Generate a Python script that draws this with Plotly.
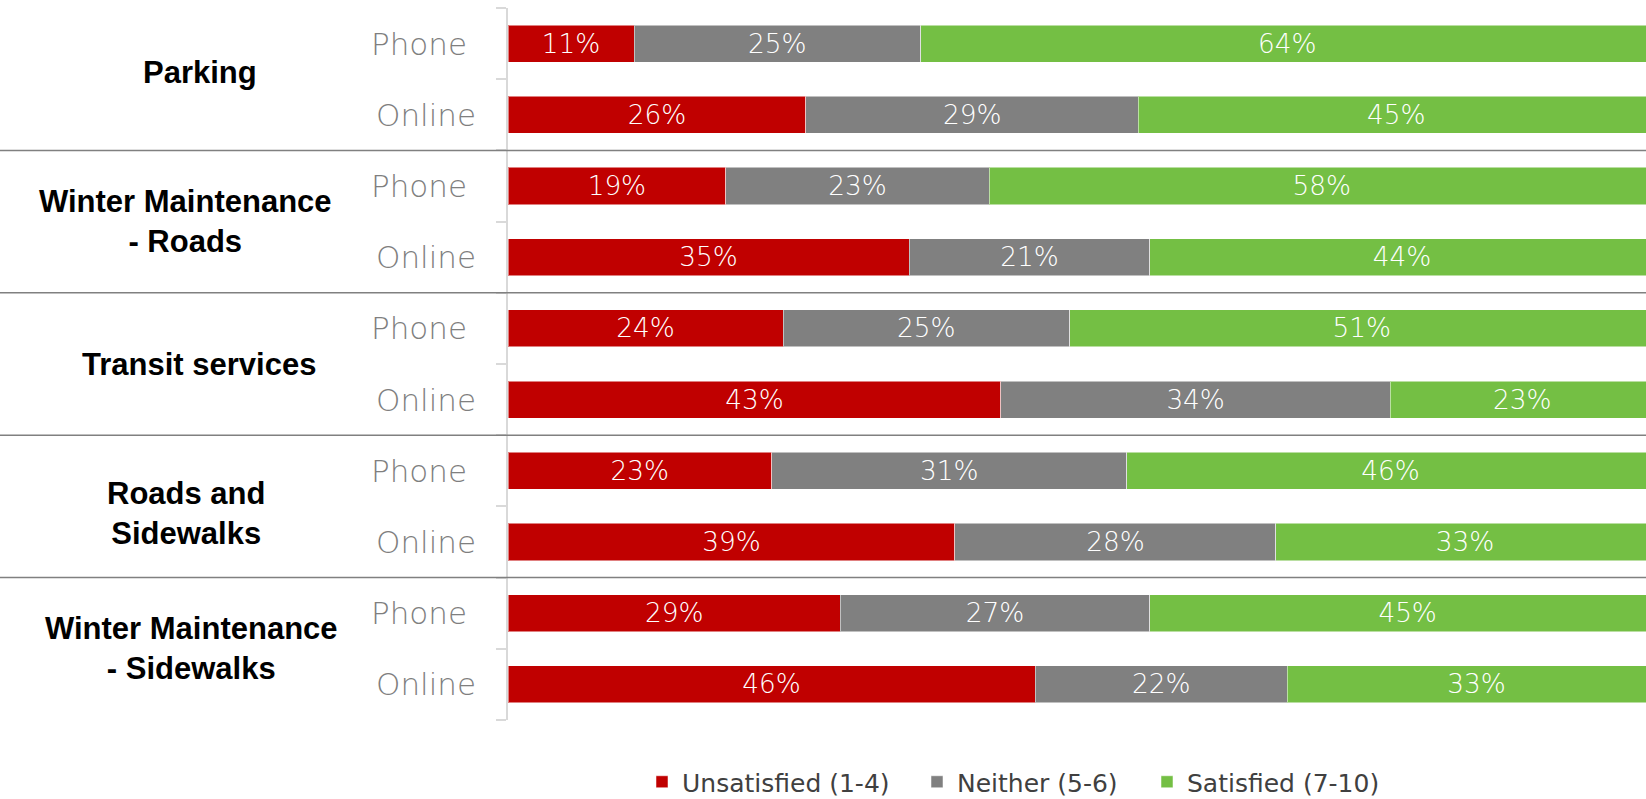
import plotly.graph_objects as go

categories = ["Parking", "Winter Maintenance<br>- Roads", "Transit services",
              "Roads and<br>Sidewalks", "Winter Maintenance<br>- Sidewalks"]
modes = ["Phone", "Online"]
series_names = ["Unsatisfied (1-4)", "Neither (5-6)", "Satisfied (7-10)"]
unsatisfied = [11, 26, 19, 35, 24, 43, 23, 39, 29, 46]
neither = [25, 29, 23, 21, 25, 34, 31, 28, 27, 22]
satisfied = [64, 45, 58, 44, 51, 23, 46, 33, 45, 33]
colors = ["#C00000", "#808080", "#74BF44"]

rows = list(range(len(categories) * len(modes)))
row_labels = [m for _ in categories for m in modes]

L, R, T, B = 508, 0, 8, 79
W, H = 1646, 799
pw = W - L - R
ph = H - T - B

def px_to_paper(px):
    return (px - L) / pw

legend_ids = ["legend", "legend2", "legend3"]
legend_text_x = [682, 957, 1187]

fig = go.Figure()
for name, vals, col, lid in zip(series_names, [unsatisfied, neither, satisfied], colors, legend_ids):
    fig.add_trace(go.Bar(
        y=rows, x=vals, name=name, orientation="h", width=0.52, legend=lid,
        marker=dict(color=col, line=dict(color="rgba(255,255,255,0.5)", width=1)),
        text=[f"{v}%" for v in vals], textposition="inside",
        insidetextanchor="middle", textangle=0,
        textfont=dict(family="DejaVu Sans", weight=200, size=28, color="white"),
        hoverinfo="skip",
    ))

annotations = []
for r, lab in zip(rows, row_labels):
    xr = 469 if lab == "Phone" else 478
    annotations.append(dict(
        x=px_to_paper(xr), xref="paper", y=r, yref="y", text=lab,
        showarrow=False, xanchor="right", yanchor="middle",
        font=dict(family="DejaVu Sans", weight=200, size=31, color="#7F7F7F"),
    ))
cat_offsets = [-0.1, 0, 0, 0.1, 0]
cat_centers_px = [200, 185, 199, 186, 191]
for c, (cat, off, cx) in enumerate(zip(categories, cat_offsets, cat_centers_px)):
    annotations.append(dict(
        x=px_to_paper(cx), xref="paper", y=2 * c + 0.5 + off, yref="y", text=f"<b>{cat}</b>",
        showarrow=False, xanchor="center", yanchor="middle", align="center",
        font=dict(family="Liberation Sans", size=31, color="black"),
    ))

shapes = []
for c in range(1, len(categories)):
    yb = 2 * c - 0.5
    shapes.append(dict(type="line", xref="paper", yref="y", x0=-L / pw, x1=1,
                       y0=yb, y1=yb, line=dict(color="#808080", width=1.5), layer="above"))

legend_font = dict(family="DejaVu Sans", size=25, color="#404040")
legends = {}
for lid, tx in zip(legend_ids, legend_text_x):
    legends[lid] = dict(orientation="h", x=px_to_paper(tx - 40), xanchor="left",
                        y=-62 / ph, yanchor="middle", font=legend_font,
                        bgcolor="rgba(0,0,0,0)", borderwidth=0)

fig.update_layout(
    width=W, height=H, barmode="stack",
    margin=dict(l=L, r=R, t=T, b=B, pad=0, autoexpand=False),
    plot_bgcolor="white", paper_bgcolor="white",
    xaxis=dict(range=[0, 99.3], visible=False, fixedrange=True),
    yaxis=dict(range=[len(rows) - 0.5, -0.5], showgrid=False, zeroline=False,
               showline=True, linecolor="#D9D9D9", linewidth=2,
               tickmode="array", tickvals=[i - 0.5 for i in range(len(rows) + 1)],
               ticks="outside", ticklen=10, tickcolor="#D9D9D9", tickwidth=2,
               showticklabels=False),
    showlegend=True,
    annotations=annotations, shapes=shapes,
    uniformtext=dict(minsize=20, mode="show"),
    **legends,
)

fig.write_html("out.html")
